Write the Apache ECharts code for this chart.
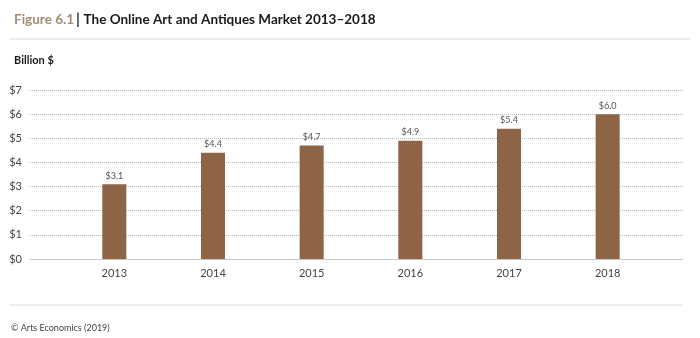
<!DOCTYPE html>
<html><head><meta charset="utf-8">
<script src="https://cdn.jsdelivr.net/npm/echarts@6/dist/echarts.min.js"></script>
<style>html,body{margin:0;padding:0;background:#fff}#c{width:700px;height:338px}</style>
</head><body><div id="c"></div>
<script>
const categories = ['2013','2014','2015','2016','2017','2018'];
const values = [3.1, 4.4, 4.7, 4.9, 5.4, 6.0];
const yTicks = [0,1,2,3,4,5,6,7];

const FONT = 'Lato';
const chart = echarts.init(document.getElementById('c'));
chart.setOption({
  backgroundColor: '#fff',
  textStyle: {fontFamily: FONT},
  title: [{
    left: 9, top: 7,
    text: '{a|Figure 6.1}{b|| }{c|The Online Art and Antiques Market 2013–2018}',
    textStyle: {rich: {
      a: {fontFamily: FONT, fontSize: 13.5, fontWeight: 'bold', color: '#a38c74'},
      b: {fontFamily: FONT, fontSize: 15, color: '#333', padding: [0, 0, 0, 2]},
      c: {fontFamily: FONT, fontSize: 13.5, fontWeight: 'bold', color: '#1a1a1a'}
    }}
  }, {
    left: 9, top: 50, text: 'Billion $',
    textStyle: {fontFamily: FONT, fontSize: 11, fontWeight: 'bold', color: '#1a1a1a'}
  }, {
    left: 6, top: 319, text: '© Arts Economics (2019)',
    textStyle: {fontFamily: FONT, fontSize: 9, fontWeight: 'normal', color: '#444'}
  }],
  graphic: [
    {type: 'line', shape: {x1: 9, y1: 39, x2: 691, y2: 39}, style: {stroke: '#dcdcdc', lineWidth: 1}},
    {type: 'line', shape: {x1: 9, y1: 305, x2: 683, y2: 305}, style: {stroke: '#dcdcdc', lineWidth: 1}}
  ],
  grid: [
    {left: 30, right: 17, top: 90, bottom: 79},
    {left: 65, right: 43, top: 90, bottom: 79}
  ],
  xAxis: [
    {gridIndex: 0, type: 'category', data: categories, show: false},
    {gridIndex: 1, type: 'category', data: categories,
     axisLine: {show: false}, axisTick: {show: false},
     axisLabel: {color: '#444', fontSize: 11, margin: 9, fontFamily: FONT}}
  ],
  yAxis: [
    {gridIndex: 0, type: 'value', min: 0, max: 7, interval: 1,
     axisLine: {show: false}, axisTick: {show: false},
     axisLabel: {color: '#444', fontSize: 11, margin: 8, fontFamily: FONT,
                 formatter: v => '$' + v},
     splitLine: {lineStyle: {type: [1, 1], color: '#b8b8b8', width: 1}}},
    {gridIndex: 1, type: 'value', min: 0, max: 7, interval: 1, show: false,
     splitLine: {show: false}}
  ],
  series: [{
    type: 'line', xAxisIndex: 0, yAxisIndex: 0, data: [], silent: true,
    markLine: {silent: true, symbol: 'none', label: {show: false},
      lineStyle: {type: 'solid', color: '#c8c8c8', width: 1},
      data: [{yAxis: 0}]}
  }, {
    type: 'bar', xAxisIndex: 1, yAxisIndex: 1, data: values, barWidth: 24,
    itemStyle: {color: '#8e6446'},
    label: {show: true, position: 'top', distance: 4, color: '#555', fontSize: 9,
            fontFamily: FONT, formatter: p => '$' + p.value.toFixed(1)}
  }],
  animation: false
});
</script></body></html>
